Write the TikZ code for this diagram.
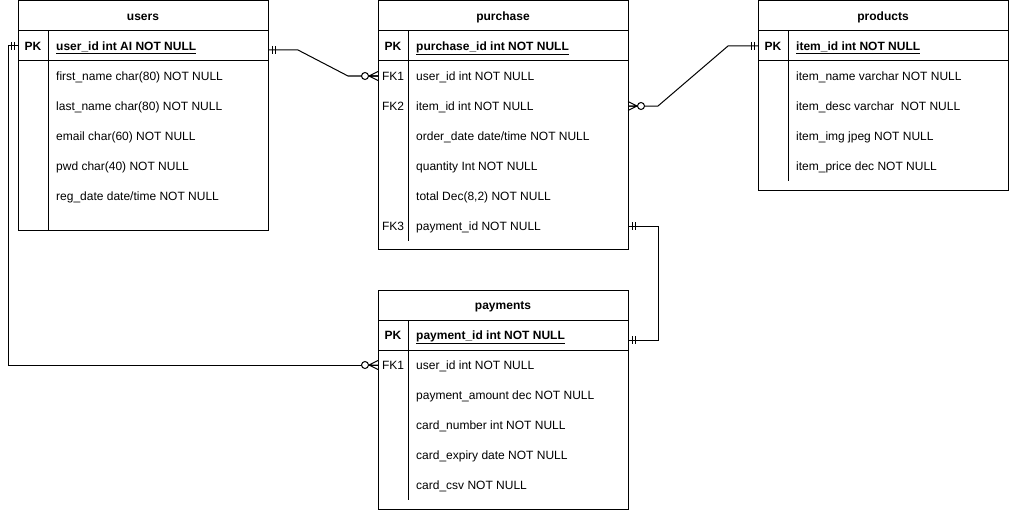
\documentclass[tikz,border=0pt]{standalone}
\usepackage{fontspec}
\setmainfont{Liberation Sans}
\usetikzlibrary{calc}
\newcommand\fs{\fontsize{12pt}{14pt}\selectfont}
\tikzset{
 tbl/.style={draw, line width=1pt, minimum width=250pt, anchor=north west, inner sep=0pt, outer sep=0pt},
 rowbox/.style={minimum width=250pt, minimum height=30pt, inner sep=0pt, outer sep=0pt},
 hdrlbl/.style={font=\fs\bfseries, anchor=base, inner sep=0pt},
 keylbl/.style={font=\fs, anchor=base, inner sep=0pt},
 fldlbl/.style={font=\fs, anchor=base west, inner sep=0pt},
 pklbl/.style={font=\fs\bfseries, anchor=base west, inner sep=0pt},
 rel/.style={line width=1pt},
 sep/.style={line width=1pt},
}
% table header text
\newcommand\tblhead[4]{\node[hdrlbl] (#1-h) at (#2+125,#3+19.3) {#4};}
% primary key row
\newcommand\pkrow[4]{%
 \node[rowbox] (#1) at (#2+125,#3) {};
 \node[hdrlbl] (#1-k) at ([xshift=15pt,yshift=-4.3pt]#1.west) {PK};
 \node[pklbl] (#1-t) at ([xshift=38pt,yshift=-4.3pt]#1.west) {\underline{#4}};}
% ordinary row
\newcommand\fieldrow[5]{%
 \node[rowbox] (#1) at (#2+125,#3) {};
 \node[keylbl] (#1-k) at ([xshift=15pt,yshift=-4.3pt]#1.west) {#4};
 \node[fldlbl] (#1-t) at ([xshift=38pt,yshift=-4.3pt]#1.west) {#5};}
% mandatory one marker
\newcommand\mone[2]{%
 \draw[rel] ($(#1)+(#2*4,-4)$) -- ++(0,8) ($(#1)+(#2*7,-4)$) -- ++(0,8);}
% zero to many marker
\newcommand\zmany[2]{%
 \draw[rel] ($(#1)+(#2*9,0)$) -- ($(#1)+(0,-4.5)$)
            ($(#1)+(#2*9,0)$) -- (#1)
            ($(#1)+(#2*9,0)$) -- ($(#1)+(0,4.5)$);
 \draw[rel, fill=white] ($(#1)+(#2*13,0)$) circle[radius=3.5];}
\begin{document}
\begin{tikzpicture}[x=1pt,y=-1pt]
\fill[white] (0,0) rectangle (1009,511);
\useasboundingbox (0,0) rectangle (1009,511);

% ---------- users ----------
\node[tbl, minimum height=229pt] (users) at (18,1) {};
\draw[sep] (18,31) -- (268,31) (18,61) -- (268,61) (48,31) -- (48,230);
\tblhead{users}{18}{1}{users}
\pkrow{users-pk}{18}{46}{user\_id int AI NOT NULL}
\fieldrow{users-f1}{18}{76}{}{first\_name char(80) NOT NULL}
\fieldrow{users-f2}{18}{106}{}{last\_name char(80) NOT NULL}
\fieldrow{users-f3}{18}{136}{}{email char(60) NOT NULL}
\fieldrow{users-f4}{18}{166}{}{pwd char(40) NOT NULL}
\fieldrow{users-f5}{18}{196}{}{reg\_date date/time NOT NULL}

% ---------- purchase ----------
\node[tbl, minimum height=248pt] (purchase) at (378,1) {};
\draw[sep] (378,31) -- (628,31) (378,61) -- (628,61) (408,31) -- (408,241);
\tblhead{purchase}{378}{1}{purchase}
\pkrow{purchase-pk}{378}{46}{purchase\_id int NOT NULL}
\fieldrow{purchase-fk1}{378}{76}{FK1}{user\_id int NOT NULL}
\fieldrow{purchase-fk2}{378}{106}{FK2}{item\_id int NOT NULL}
\fieldrow{purchase-f3}{378}{136}{}{order\_date date/time NOT NULL}
\fieldrow{purchase-f4}{378}{166}{}{quantity Int NOT NULL}
\fieldrow{purchase-f5}{378}{196}{}{total Dec(8,2) NOT NULL}
\fieldrow{purchase-fk3}{378}{226}{FK3}{payment\_id NOT NULL}

% ---------- products ----------
\node[tbl, minimum height=189pt] (products) at (758,1) {};
\draw[sep] (758,31) -- (1008,31) (758,61) -- (1008,61) (788,31) -- (788,181);
\tblhead{products}{758}{1}{products}
\pkrow{products-pk}{758}{46}{item\_id int NOT NULL}
\fieldrow{products-f1}{758}{76}{}{item\_name varchar NOT NULL}
\fieldrow{products-f2}{758}{106}{}{item\_desc varchar\ \ NOT NULL}
\fieldrow{products-f3}{758}{136}{}{item\_img jpeg NOT NULL}
\fieldrow{products-f4}{758}{166}{}{item\_price dec NOT NULL}

% ---------- payments ----------
\node[tbl, minimum height=219pt] (payments) at (378,290) {};
\draw[sep] (378,320) -- (628,320) (378,350) -- (628,350) (408,320) -- (408,500);
\tblhead{payments}{378}{290}{payments}
\pkrow{payments-pk}{378}{335}{payment\_id int NOT NULL}
\fieldrow{payments-fk1}{378}{365}{FK1}{user\_id int NOT NULL}
\fieldrow{payments-f2}{378}{395}{}{payment\_amount dec NOT NULL}
\fieldrow{payments-f3}{378}{425}{}{card\_number int NOT NULL}
\fieldrow{payments-f4}{378}{455}{}{card\_expiry date NOT NULL}
\fieldrow{payments-f5}{378}{485}{}{card\_csv NOT NULL}

% ---------- relationships ----------
\coordinate (u-r) at ([yshift=-4pt]users-pk.east);
\draw[rel] (u-r) -- ++(30,0) -- ([xshift=-30pt]purchase-fk1.west) -- (purchase-fk1.west);
\mone{u-r}{1}
\zmany{purchase-fk1.west}{-1}

\draw[rel] (purchase-fk2.east) -- ++(30,0) -- ([xshift=-30pt]products-pk.west) -- (products-pk.west);
\zmany{purchase-fk2.east}{1}
\mone{products-pk.west}{-1}

\coordinate (p-r) at ([yshift=-5pt]payments-pk.east);
\draw[rel] (purchase-fk3.east) -- ++(30,0) |- (p-r);
\mone{purchase-fk3.east}{1}
\mone{p-r}{1}

\draw[rel] (users-pk.west) -- ++(-10,0) |- (payments-fk1.west);
\mone{users-pk.west}{-1}
\zmany{payments-fk1.west}{-1}
\end{tikzpicture}
\end{document}
